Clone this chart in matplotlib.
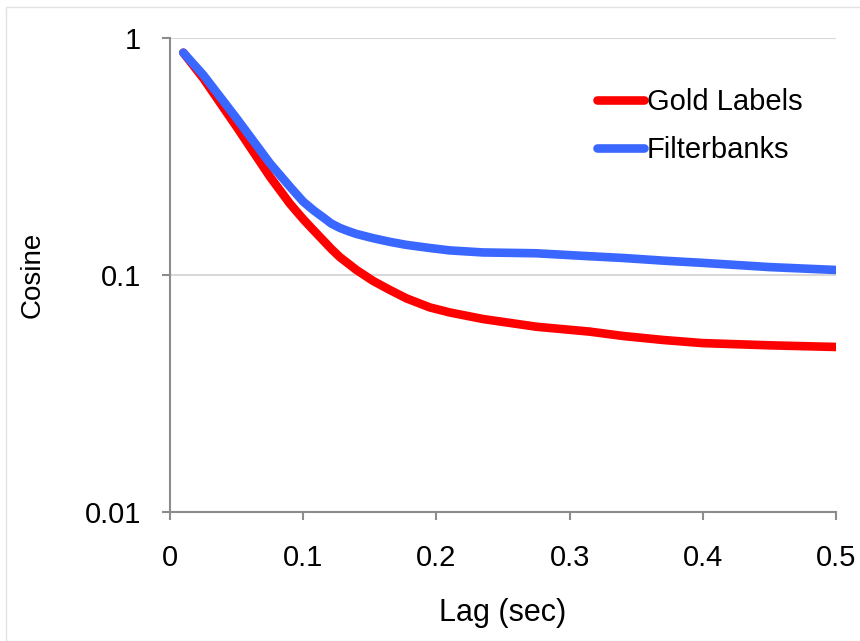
import matplotlib
matplotlib.use('Agg')
import matplotlib.pyplot as plt
from matplotlib.patches import Rectangle

# 字体：Arial 风格
plt.rcParams['font.family'] = ['Liberation Sans', 'DejaVu Sans']

# ========== 数据 ==========
lag = [0.01, 0.025, 0.05, 0.075, 0.09, 0.1, 0.108, 0.115, 0.121, 0.1275, 0.134, 0.14,
       0.1525, 0.165, 0.1775, 0.195, 0.21, 0.235, 0.275, 0.315, 0.34, 0.37, 0.4, 0.45, 0.5]
gold = [0.867, 0.676, 0.422, 0.26, 0.2, 0.172, 0.154, 0.14, 0.129, 0.119, 0.1115, 0.105,
        0.0944, 0.0865, 0.0797, 0.073, 0.0695, 0.0652, 0.0605, 0.0577, 0.0553, 0.0532,
        0.0516, 0.0505, 0.0497]
filterbanks = [0.867, 0.698, 0.458, 0.296, 0.236, 0.204, 0.187, 0.175, 0.165, 0.158, 0.153,
               0.149, 0.143, 0.138, 0.134, 0.130, 0.127, 0.1245, 0.1235, 0.12, 0.118, 0.115,
               0.1125, 0.108, 0.105]
x_ticks = [0, 0.1, 0.2, 0.3, 0.4, 0.5]
x_labels = ['0', '0.1', '0.2', '0.3', '0.4', '0.5']
y_ticks = [0.01, 0.1, 1]
y_labels = ['0.01', '0.1', '1']

# ========== 绘图 ==========
fig = plt.figure(figsize=(8.6, 6.41), dpi=100)
ax = fig.add_axes([170 / 860, 1 - 512 / 641, 666 / 860, 474 / 641])

# 外框
fig.patches.append(Rectangle((6 / 860, 0), 1, 1 - 7 / 641, transform=fig.transFigure,
                             fill=False, edgecolor='#e2e2e2', linewidth=1))

ax.plot(lag, gold, color='#ff0000', linewidth=6.2, solid_capstyle='round',
        solid_joinstyle='round', label='Gold Labels', zorder=3)
ax.plot(lag, filterbanks, color='#3a67ff', linewidth=6.2, solid_capstyle='round',
        solid_joinstyle='round', label='Filterbanks', zorder=4)

ax.set_yscale('log')
ax.set_xlim(0, 0.5)
ax.set_ylim(0.01, 1)
ax.set_xticks(x_ticks)
ax.set_xticklabels(x_labels)
ax.set_yticks(y_ticks)
ax.set_yticklabels(y_labels)
ax.minorticks_off()

for s in ['top', 'right']:
    ax.spines[s].set_visible(False)
for s in ['left', 'bottom']:
    ax.spines[s].set_color('#8c8c8c')
    ax.spines[s].set_linewidth(1.5)
ax.tick_params(axis='both', colors='#8c8c8c', length=6, width=1.5, labelsize=21,
               labelcolor='black')
ax.tick_params(axis='x', pad=17)
ax.tick_params(axis='y', pad=15)

ax.grid(axis='y', color='#d9d9d9', linewidth=1.5)
ax.set_axisbelow(True)

ax.set_xlabel('Lag (sec)', fontsize=22)
ax.set_ylabel('Cosine', fontsize=20)
ax.xaxis.set_label_coords(0.5, (512 - 598) / 474)
ax.yaxis.set_label_coords((46 - 170) / 666, 0.5)

ax.legend(loc='upper left', bbox_to_anchor=(0.641, 0.894), frameon=False, fontsize=21,
          handlelength=1.6, handletextpad=0.12, labelspacing=0.68,
          borderaxespad=0, borderpad=0)

fig.savefig('out.png', dpi=100)
